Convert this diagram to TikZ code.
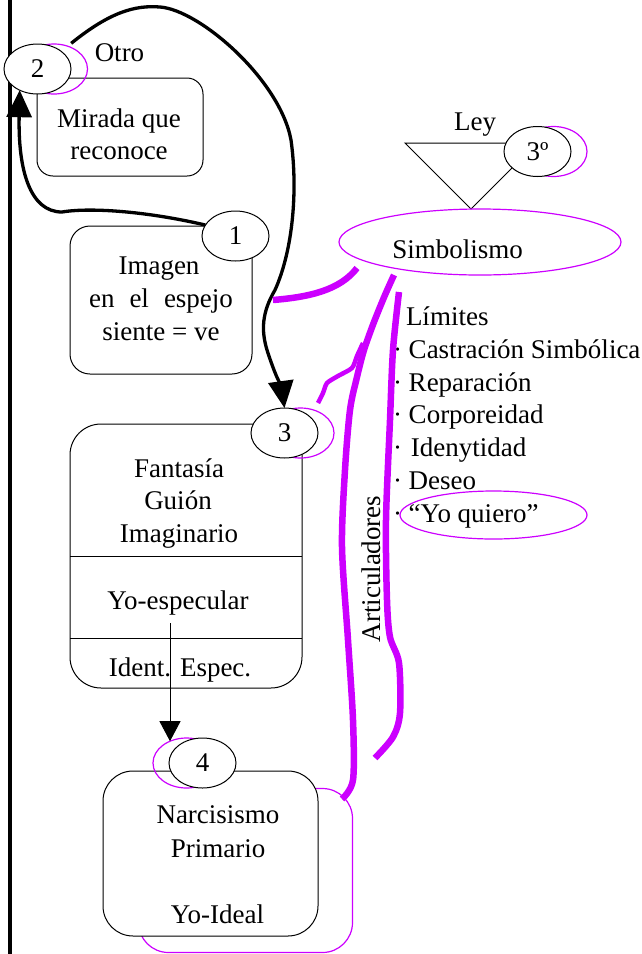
\documentclass[tikz,border=0pt]{standalone}
\usepackage{fontspec}
\setmainfont{Liberation Serif}
\usetikzlibrary{shapes.geometric,arrows.meta,calc}
\definecolor{mag}{HTML}{CC00FF}
\begin{document}
\begin{tikzpicture}[x=1pt,y=-1pt,
  every node/.style={font=\fontsize{27}{33}\selectfont, inner sep=0pt, outer sep=0pt},
  txt/.style={anchor=base},
  lst/.style={anchor=base west},
  num/.style={ellipse, draw=black, line width=1pt, fill=white, minimum width=67pt, minimum height=50pt},
  numshadow/.style={ellipse, draw=mag, line width=1.2pt, minimum width=67pt, minimum height=50pt},
  boxnode/.style={draw=black, line width=1pt, fill=white, rounded corners=#1},
  bigarrow/.style={line width=3.3pt, -{Triangle[length=27pt,width=25pt]}},
  magstroke/.style={draw=mag, line width=6.5pt},
  magthin/.style={draw=mag, line width=4.5pt},
]
\useasboundingbox (0,0) rectangle (641,954);

% left vertical line
\draw[line width=4pt] (9.5,0) -- (9.5,954);

% box 2 and node 2
\node[boxnode=16pt, minimum width=166pt, minimum height=98pt] (b2) at (120,127) {};
\node[numshadow] (n2s) at (54,69) {};
\node[num] (n2) at (37.5,69) {2};
\node[txt] (otro) at (119.5,61) {Otro};
\node[txt] (t2a) at (119,127) {Mirada que};
\node[txt] (t2b) at (119,159) {reconoce};

% box 1 and node 1
\node[boxnode=20pt, minimum width=182pt, minimum height=148pt] (b1) at (161,300) {};
\node[num] (n1) at (235.5,236) {1};
\node[txt] (t1a) at (159,274) {Imagen};
\node[txt] (t1b) at (161,307) {en\hspace{15pt}el\hspace{15pt}espejo};
\node[txt] (t1c) at (161,340) {siente = ve};

% box 3 and node 3
\node[boxnode=31pt, minimum width=232pt, minimum height=264pt] (b3) at (186,556) {};
\draw[line width=1pt] (b3.west |- 0,556) -- (b3.east |- 0,556);
\draw[line width=1pt] (b3.west |- 0,638) -- (b3.east |- 0,638);
\node[numshadow] (n3s) at (300.5,433) {};
\node[num] (n3) at (284.5,433) {3};
\node[txt] (t3a) at (179,477) {Fantasía};
\node[txt] (t3b) at (178,509) {Guión};
\node[txt] (t3c) at (179,542) {Imaginario};
\node[txt] (t3yo) at (178,609) {Yo-especular};
\node[txt] (t3d) at (180,676) {Ident. Espec.};

% box 4 and node 4
\node[draw=mag, line width=1.2pt, rounded corners=30pt, minimum width=214pt, minimum height=164pt] (b4s) at (245.5,870.5) {};
\node[boxnode=30pt, minimum width=215pt, minimum height=165pt] (b4) at (210.5,853.5) {};
\node[numshadow] (n4s) at (186.5,763) {};
\node[num] (n4) at (202.5,763) {4};
\node[txt] (t4a) at (218,823) {Narcisismo};
\node[txt] (t4b) at (218,857) {Primario};
\node[txt] (t4c) at (217.5,923) {Yo-Ideal};

% law triangle and 3º
\coordinate (trA) at (405,143);
\coordinate (trB) at (537,143);
\coordinate (trC) at (471,209);
\draw[line width=1pt] (trA) -- (trB) -- (trC) -- cycle;
\node[numshadow] (n3os) at (553.5,151.5) {};
\node[num] (n3o) at (537.5,151.5) {3º};
\node[txt] (ley) at (475,130) {Ley};

% Simbolismo
\node[ellipse, draw=mag, line width=1.2pt, minimum width=282pt, minimum height=66pt] (simb) at (480,242) {};
\node[txt] (simbt) at (457.7,258) {Simbolismo};

% list
\node[lst] (l1) at (406,325) {Límites};
\node[lst] (l2) at (393,358) {· Castración Simbólica};
\node[lst] (l3) at (393,391) {· Reparación};
\node[lst] (l4) at (393,423) {· Corporeidad};
\node[lst] (l5) at (393,456) {·\hspace{9pt}Idenytidad};
\node[lst] (l6) at (393,489) {· Deseo};
\node[lst] (l7) at (393,522) {· “Yo quiero”};
\node[ellipse, draw=mag, line width=1.2pt, minimum width=187pt, minimum height=48pt] (yq) at (493.5,515) {};

% black connectors
\draw[bigarrow] (n1.160) .. controls (150,212) and (92,207) .. (62,212)
  .. controls (30,212) and (18,170) .. (n2.230);
\draw[bigarrow] ([shift={(10,-8)}]n2.north east) .. controls (110,12) and (135,5) .. (160,7)
  .. controls (200,10) and (280,80) .. (291,140)
  .. controls (298,190) and (293,250) .. (275,290)
  .. controls (262,312) and (261,330) .. (267,350)
  .. controls (274,372) and (282,390) .. (n3.north);
\coordinate (yoarr) at (170,623);
\draw[line width=1pt, -{Triangle[length=20pt,width=21pt]}] (yoarr) -- (yoarr |- n4s.127);

% magenta articulators
\draw[magstroke] (273,300) .. controls (310,297) and (340,290) .. (357,268);
\draw[magstroke] plot[smooth, tension=0.5] coordinates {(394,275) (385,295) (374,322) (364,350) (357,377) (350,410) (345,470) (342,547) (348,640) (353,720) (353,780) (342,799)};
\draw[magthin] plot[smooth, tension=0.4] coordinates {(363,343) (357,356) (352,368) (338,376) (327,383) (323,393) (318,403)};
\draw[magstroke] plot[smooth, tension=0.5] coordinates {(399,292) (393,350) (390,420) (386,520) (387,600) (390,637) (399,663) (400,713) (393,737) (375,758)};

\node[txt, rotate=90] (art) at (380,569) {Articuladores};
\end{tikzpicture}
\end{document}
